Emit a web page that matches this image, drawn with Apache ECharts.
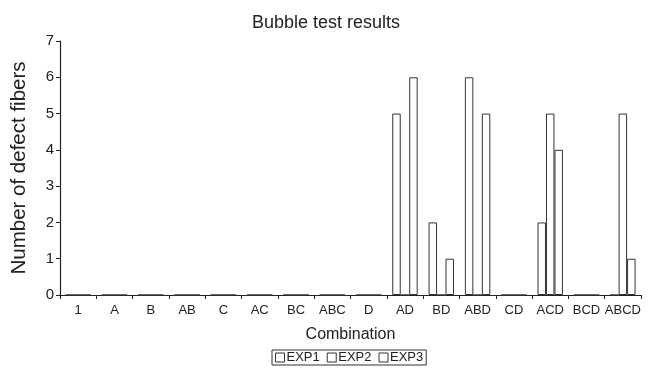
<!DOCTYPE html>
<html>
<head>
<meta charset="utf-8">
<script src="https://cdn.jsdelivr.net/npm/echarts@6/dist/echarts.min.js"></script>
<style>
  html, body { margin: 0; padding: 0; background: #fff; }
  #chart { width: 652px; height: 371px; }
</style>
</head>
<body>
<div id="chart"></div>
<script>
// 组合类别与三次实验的缺陷纤维数
const combos = ['1', 'A', 'B', 'AB', 'C', 'AC', 'BC', 'ABC', 'D', 'AD', 'BD', 'ABD', 'CD', 'ACD', 'BCD', 'ABCD']
const exp1 = [0, 0, 0, 0, 0, 0, 0, 0, 0, 5, 2, 6, 0, 2, 0, 0]
const exp2 = [0, 0, 0, 0, 0, 0, 0, 0, 0, 0, 0, 0, 0, 5, 0, 5]
const exp3 = [0, 0, 0, 0, 0, 0, 0, 0, 0, 6, 1, 5, 0, 4, 0, 1]
const seriesNames = ['EXP1', 'EXP2', 'EXP3']
const yTicks = [0, 1, 2, 3, 4, 5, 6, 7]

const font = 'Liberation Sans, Arial, sans-serif'

function barSeries(name, data) {
  return {
    name: name,
    type: 'bar',
    data: data,
    barGap: '0%',
    barCategoryGap: '30%',
    itemStyle: { color: '#fff', borderColor: '#333', borderWidth: 1 },
    emphasis: { disabled: true }
  }
}

const chart = echarts.init(document.getElementById('chart'))
chart.setOption({
  animation: false,
  textStyle: { fontFamily: font },
  title: {
    text: 'Bubble test results',
    left: 'center',
    top: 9,
    textStyle: { fontSize: 18, fontWeight: 'normal', color: '#222', fontFamily: font }
  },
  legend: {
    bottom: 6,
    left: 272,
    data: seriesNames,
    icon: 'rect',
    itemWidth: 9,
    itemHeight: 9,
    itemGap: 7,
    padding: [1, 3, 1, 3],
    borderColor: '#333',
    borderWidth: 1,
    borderRadius: 0,
    itemStyle: { color: '#fff', borderColor: '#333', borderWidth: 1 },
    textStyle: { fontSize: 13, color: '#222', padding: [0, 0, 0, -3] }
  },
  grid: { left: 60, right: 11, top: 41, bottom: 76 },
  xAxis: {
    type: 'category',
    data: combos,
    name: 'Combination',
    nameLocation: 'middle',
    nameGap: 32,
    nameTextStyle: { fontSize: 16, color: '#222' },
    axisLine: { lineStyle: { color: '#222', width: 1.2 } },
    axisTick: { show: true, length: 4, lineStyle: { color: '#222' } },
    axisLabel: { fontSize: 13, color: '#222', margin: 9, interval: 0 }
  },
  yAxis: {
    type: 'value',
    min: yTicks[0],
    max: yTicks[yTicks.length - 1],
    interval: 1,
    name: 'Number of defect fibers',
    nameLocation: 'middle',
    nameGap: 30,
    nameTextStyle: { fontSize: 20.5, color: '#222' },
    axisLine: { show: true, lineStyle: { color: '#222', width: 1.2 } },
    axisTick: { show: true, length: 4, lineStyle: { color: '#222' } },
    axisLabel: { fontSize: 15, color: '#222', margin: 6 },
    splitLine: { show: false }
  },
  series: [
    barSeries(seriesNames[0], exp1),
    barSeries(seriesNames[1], exp2),
    barSeries(seriesNames[2], exp3)
  ]
})
</script>
</body>
</html>
